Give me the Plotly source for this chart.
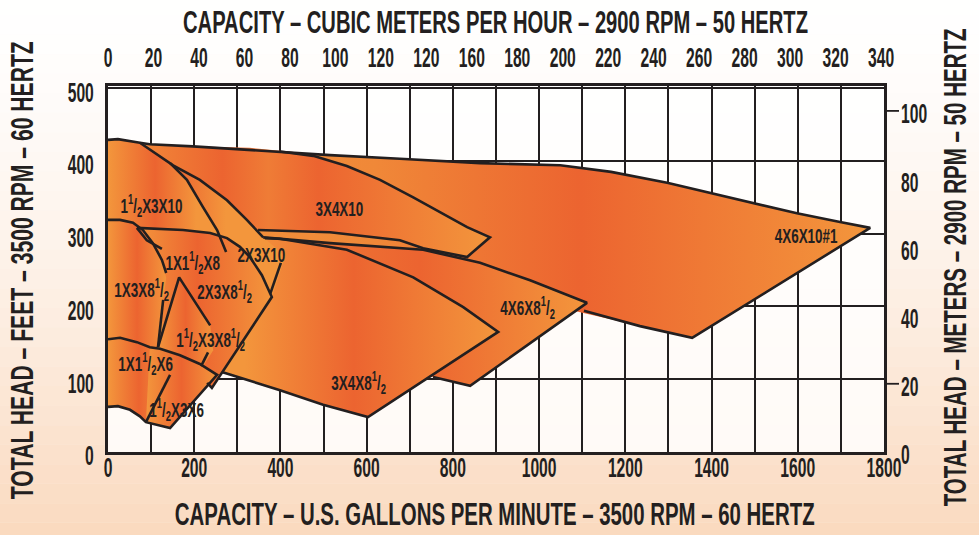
import plotly.graph_objects as go

# ---------------- data (gpm, feet) ----------------
GPM_TICKS = list(range(0, 2000, 200))
FT_TICKS = [0, 100, 200, 300, 400, 500]
M3H_TICKS = list(range(0, 360, 20))
M3H_TEXT = ["0", "20", "40", "60", "80", "100", "120", "120", "160", "180", "200",
            "220", "240", "260", "280", "300", "320", "340"]
M_TICKS = [0, 20, 40, 60, 80, 100]

# filled regions (outlines in gpm / ft)
r_4x6x10_x = [0, 97, 197, 299, 399, 515, 677, 863, 1049, 1167, 1297, 1397, 1496, 1598, 1698, 1768, 1355, 1234, 1095, 956, 793, 631, 445, 213, 0]
r_4x6x10_y = [425, 423, 420, 416, 412, 408, 403, 397, 394, 385, 370, 356, 342, 328, 316, 308, 157, 173, 192, 213, 232, 250, 267, 280, 289]
r_4x6x85_x = [0, 360, 515, 731, 863, 979, 1111, 840, 754, 631, 445, 213, 0]
r_4x6x85_y = [302, 295, 287, 278, 260, 236, 205, 91, 103, 120, 147, 181, 209]
r_3x4x10_x = [0, 97, 213, 329, 399, 476, 554, 631, 708, 786, 833, 886, 833, 731, 677, 515, 348, 0]
r_3x4x10_y = [425, 423, 420, 418, 414, 407, 393, 374, 350, 324, 309, 295, 268, 280, 291, 302, 305, 306]
r_3x4x85_x = [0, 360, 399, 554, 708, 824, 905, 603, 499, 399, 306, 264, 167, 0]
r_3x4x85_y = [297, 295, 293, 278, 240, 199, 165, 48, 65, 85, 102, 110, 126, 147]
r_2x3x10_x = [74, 151, 213, 276, 322, 360, 411, 380, 213, 67]
r_2x3x10_y = [425, 394, 374, 346, 319, 295, 269, 213, 209, 305]
r_15x3x10_x = [0, 23, 74, 144, 183, 220, 253, 274, 121, 0]
r_15x3x10_y = [429, 430, 425, 397, 374, 337, 305, 278, 278, 316]
r_2x3x85_x = [67, 174, 237, 276, 306, 329, 357, 380, 241, 230, 132, 121, 97]
r_2x3x85_y = [308, 305, 301, 294, 282, 268, 243, 213, 88, 95, 147, 209, 291]
r_1x15x8_x = [165, 237, 244, 218, 116]
r_1x15x8_y = [240, 174, 140, 115, 144]
r_1x3x85_x = [0, 28, 58, 81, 104, 125, 135, 128, 116, 0]
r_1x3x85_y = [319, 319, 315, 305, 287, 264, 239, 209, 144, 147]
r_1x15x6_x = [0, 28, 67, 97, 144, 88, 74, 51, 23, 0]
r_1x15x6_y = [155, 157, 151, 144, 133, 41, 49, 58, 63, 62]
r_15x3x6_x = [97, 121, 167, 213, 253, 144, 88]
r_15x3x6_y = [144, 142, 133, 121, 106, 33, 41]

# visible outline curves (gpm / ft)
c_top_x = [0, 23, 74, 97, 197, 299, 399, 515, 677, 863, 1049, 1167, 1297, 1397, 1496, 1598, 1698, 1768, 1355, 1234, 1104]
c_top_y = [429, 430, 425, 423, 420, 416, 412, 408, 403, 397, 394, 385, 370, 356, 342, 328, 316, 308, 157, 173, 194]
c_3x4x10_x = [399, 476, 554, 631, 708, 786, 833, 886, 833, 731, 677, 515, 348]
c_3x4x10_y = [413, 407, 393, 374, 350, 324, 309, 295, 268, 280, 291, 302, 305]
c_4x6x85_x = [360, 515, 731, 863, 979, 1111, 840, 754]
c_4x6x85_y = [295, 287, 278, 260, 236, 205, 91, 103]
c_3x4x85_x = [364, 399, 554, 708, 824, 905, 603, 499, 399, 306, 264]
c_3x4x85_y = [294, 293, 278, 240, 199, 165, 48, 65, 85, 102, 110]
c_2x3x10_x = [74, 151, 213, 276, 322, 360]
c_2x3x10_y = [425, 394, 374, 346, 319, 295]
c_15x3x10_x = [144, 183, 220, 253, 274]
c_15x3x10_y = [397, 374, 337, 305, 275]
c_2x3x10b_x = [401, 376]
c_2x3x10b_y = [260, 217]
c_2x3x85_x = [67, 174, 237, 276, 306, 329, 357, 380, 241, 230]
c_2x3x85_y = [308, 305, 301, 294, 282, 268, 243, 213, 88, 95]
c_1x3x85a_x = [0, 28, 58, 81, 104, 125, 135]
c_1x3x85a_y = [319, 319, 315, 305, 287, 264, 246]
c_1x3x85b_x = [128, 116]
c_1x3x85b_y = [209, 144]
c_short_x = [67, 90, 125]
c_short_y = [308, 291, 279]
c_1x15x8_x = [116, 165, 237]
c_1x15x8_y = [144, 240, 174]
c_15x3x85_x = [232, 216]
c_15x3x85_y = [137, 118]
c_small_x = [0, 28, 67, 97, 121, 167, 213, 253, 144, 88, 74, 51, 23, 0]
c_small_y = [155, 157, 151, 144, 142, 133, 121, 106, 33, 41, 49, 58, 63, 62]
c_1x15x6_x = [88, 144]
c_1x15x6_y = [41, 106]

# labels
lab_text = ["1<sup>1</sup>/<sub>2</sub>X3X10", "3X4X10", "4X6X10#1", "1X1<sup>1</sup>/<sub>2</sub>X8",
            "2X3X10", "1X3X8<sup>1</sup>/<sub>2</sub>", "2X3X8<sup>1</sup>/<sub>2</sub>",
            "4X6X8<sup>1</sup>/<sub>2</sub>", "1<sup>1</sup>/<sub>2</sub>X3X8<sup>1</sup>/<sub>2</sub>",
            "1X1<sup>1</sup>/<sub>2</sub>X6", "3X4X8<sup>1</sup>/<sub>2</sub>", "1<sup>1</sup>/<sub>2</sub>X3X6"]
lab_x = [102, 538, 1619, 197, 357, 77, 271, 972, 237, 86, 580, 160]
lab_y = [339, 335, 298, 261, 271, 224, 221, 199, 155, 121, 95, 58]

TITLE_TOP = "CAPACITY – CUBIC METERS PER HOUR – 2900 RPM – 50 HERTZ"
TITLE_BOTTOM = "CAPACITY – U.S. GALLONS PER MINUTE – 3500 RPM – 60 HERTZ"
TITLE_LEFT = "TOTAL HEAD – FEET – 3500 RPM – 60 HERTZ"
TITLE_RIGHT = "TOTAL HEAD – METERS – 2900 RPM – 50 HERTZ"

# ---------------- styling ----------------
INK = "#231F20"
LIGHT = "#F3963C"
DARK = "#EC6430"
FONT = "Liberation Sans, Arial, sans-serif"

fig = go.Figure()


def region(xs, ys, stops):
    fig.add_trace(go.Scatter(
        x=xs, y=ys, mode="none", fill="toself",
        fillgradient=dict(type="horizontal", colorscale=stops),
        hoverinfo="skip", showlegend=False))


def curve(xs, ys):
    fig.add_trace(go.Scatter(
        x=xs, y=ys, mode="lines", line=dict(color=INK, width=2.6),
        hoverinfo="skip", showlegend=False))


std = [[0, LIGHT], [0.5, DARK], [1, LIGHT]]
region(r_4x6x10_x, r_4x6x10_y, [[0, LIGHT], [0.35, "#F08838"], [0.62, DARK], [1, LIGHT]])
region(r_4x6x85_x, r_4x6x85_y, [[0, LIGHT], [0.65, DARK], [1, LIGHT]])
region(r_3x4x10_x, r_3x4x10_y, [[0, LIGHT], [0.3, DARK], [0.42, "#EF7C36"], [0.55, DARK], [1, LIGHT]])
region(r_3x4x85_x, r_3x4x85_y, [[0, LIGHT], [0.35, LIGHT], [0.63, DARK], [1, LIGHT]])
region(r_2x3x10_x, r_2x3x10_y, [[0, LIGHT], [0.25, DARK], [0.6, LIGHT], [1, LIGHT]])
region(r_15x3x10_x, r_15x3x10_y, [[0, LIGHT], [0.4, DARK], [0.75, LIGHT], [1, LIGHT]])
region(r_2x3x85_x, r_2x3x85_y, [[0, LIGHT], [0.45, DARK], [1, LIGHT]])
region(r_1x15x8_x, r_1x15x8_y, std)
region(r_1x3x85_x, r_1x3x85_y, std)
region(r_1x15x6_x, r_1x15x6_y, std)
region(r_15x3x6_x, r_15x3x6_y, std)

for xs, ys in [(c_top_x, c_top_y), (c_3x4x10_x, c_3x4x10_y), (c_4x6x85_x, c_4x6x85_y),
               (c_3x4x85_x, c_3x4x85_y), (c_2x3x10_x, c_2x3x10_y), (c_15x3x10_x, c_15x3x10_y),
               (c_2x3x10b_x, c_2x3x10b_y), (c_2x3x85_x, c_2x3x85_y), (c_1x3x85a_x, c_1x3x85a_y),
               (c_1x3x85b_x, c_1x3x85b_y), (c_short_x, c_short_y), (c_1x15x8_x, c_1x15x8_y),
               (c_15x3x85_x, c_15x3x85_y), (c_small_x, c_small_y), (c_1x15x6_x, c_1x15x6_y)]:
    curve(xs, ys)

# invisible trace so the secondary (metric) axes are drawn
fig.add_trace(go.Scatter(x=[0], y=[0], xaxis="x2", yaxis="y2", mode="markers",
                         marker=dict(opacity=0), hoverinfo="skip", showlegend=False))

for lt, lx, ly in zip(lab_text, lab_x, lab_y):
    fig.add_annotation(x=lx, y=ly, text=lt, showarrow=False,
                       font=dict(family=FONT, size=21, color=INK, weight="bold"))

tickfont = dict(family=FONT, size=27, color=INK, weight="bold")
fig.update_layout(
    width=979, height=535,
    margin=dict(l=108, r=95, t=86, b=83),
    paper_bgcolor="white", plot_bgcolor="rgba(0,0,0,0)",
    xaxis=dict(range=[0, 1800], tickmode="array", tickvals=GPM_TICKS, tickangle=0,
               showgrid=True, gridcolor=INK, gridwidth=1.8, zeroline=False,
               minor=dict(dtick=100, showgrid=True, gridcolor=INK, gridwidth=1.8, ticks=""),
               showline=True, linecolor=INK, linewidth=2.6, mirror=True,
               ticks="", tickfont=tickfont, ticklabelstandoff=-10),
    yaxis=dict(range=[0, 503], tickmode="array", tickvals=FT_TICKS,
               showgrid=True, gridcolor=INK, gridwidth=1.8, zeroline=False,
               showline=True, linecolor=INK, linewidth=2.6, mirror=True,
               ticks="", tickfont=tickfont, ticklabelshift=4, ticklabelstandoff=6),
    xaxis2=dict(range=[0, 341.3], overlaying="x", side="top", anchor="y", tickangle=0,
                tickmode="array", tickvals=M3H_TICKS, ticktext=M3H_TEXT,
                showgrid=False, zeroline=False, showline=False, ticks="",
                tickfont=tickfont, ticklabelstandoff=13),
    yaxis2=dict(range=[0, 107.3], overlaying="y", side="right", anchor="x",
                tickmode="array", tickvals=M_TICKS, showgrid=False, zeroline=False,
                showline=False, ticks="", tickfont=tickfont, ticklabelstandoff=16,
                ticklabelshift=3),
)

# background tint (vertical fade to peach)
shapes = []
n = 30
for i in range(n):
    y0 = -0.3 + i * 1.6 / n
    y1 = y0 + 1.6 / n
    t = i / (n - 1)
    a = max(0.0, 0.5 * (1 - t) ** 1.5)
    shapes.append(dict(type="rect", xref="paper", yref="paper", x0=-0.2, x1=1.2, y0=y0, y1=y1,
                       fillcolor=f"rgba(244,176,120,{a:.3f})", line=dict(width=0), layer="below"))
shapes.append(dict(type="rect", xref="paper", yref="paper", x0=0, x1=1, y0=0, y1=1,
                   fillcolor="rgba(255,255,255,0.82)", line=dict(width=0), layer="below"))
for v in [100, 20]:
    shapes.append(dict(type="line", xref="paper", yref="y2", x0=1, x1=1 + 15 / 776, y0=v, y1=v,
                       line=dict(color=INK, width=1.8)))
fig.update_layout(shapes=shapes)

titlefont = dict(family=FONT, size=32, color=INK, weight="bold")
fig.add_annotation(xref="paper", yref="paper", x=0.4994, y=1.175, text=TITLE_TOP,
                   showarrow=False, font=titlefont, xanchor="center", yanchor="middle")
fig.add_annotation(xref="paper", yref="paper", x=0.4987, y=-0.169, text=TITLE_BOTTOM,
                   showarrow=False, font=titlefont, xanchor="center", yanchor="middle")
fig.add_annotation(xref="paper", yref="paper", x=-0.111, y=0.497, text=TITLE_LEFT,
                   showarrow=False, font=titlefont, textangle=-90, xanchor="center", yanchor="middle")
fig.add_annotation(xref="paper", yref="paper", x=1.0915, y=0.503, text=TITLE_RIGHT,
                   showarrow=False, font=titlefont, textangle=-90, xanchor="center", yanchor="middle")

# condense the lettering horizontally (the original uses a condensed typeface)
post = """
(function(){
  document.body.style.margin = '0';
  var gd = document.querySelectorAll('.plotly-graph-div')[0];
  var targets = {};
  targets[%s] = 625; targets[%s] = 640; targets[%s] = 458; targets[%s] = 478;
  function sq(){
    var ts = gd.querySelectorAll('text');
    for (var i = 0; i < ts.length; i++) {
      var t = ts[i];
      var cls = (t.getAttribute('class') || '') + ' ' + ((t.parentNode && t.parentNode.getAttribute && t.parentNode.getAttribute('class')) || '');
      var txt = t.textContent;
      var bb = t.getBBox();
      if (!bb.width) continue;
      var k, cx;
      if (targets[txt]) { k = targets[txt] / bb.width; cx = bb.x + bb.width / 2; }
      else if (cls.indexOf('annotation-text') >= 0) { k = 0.64; cx = bb.x + bb.width / 2; }
      else if (/tick/.test(cls)) { k = 0.58; cx = parseFloat(t.getAttribute('x')) || 0; }
      else continue;
      var cur = t.getAttribute('transform') || '';
      if (t.getAttribute('data-sq') === cur) continue;
      var tf = cur + ' translate(' + cx + ',0) scale(' + k + ',1) translate(' + (-cx) + ',0)';
      t.setAttribute('transform', tf);
      t.setAttribute('data-sq', tf);
    }
  }
  sq();
  if (gd.on) gd.on('plotly_afterplot', sq);
})();
""" % tuple('"%s"' % s for s in (TITLE_TOP, TITLE_BOTTOM, TITLE_LEFT, TITLE_RIGHT))

fig.write_html("out.html", post_script=post, config={"displayModeBar": False})
